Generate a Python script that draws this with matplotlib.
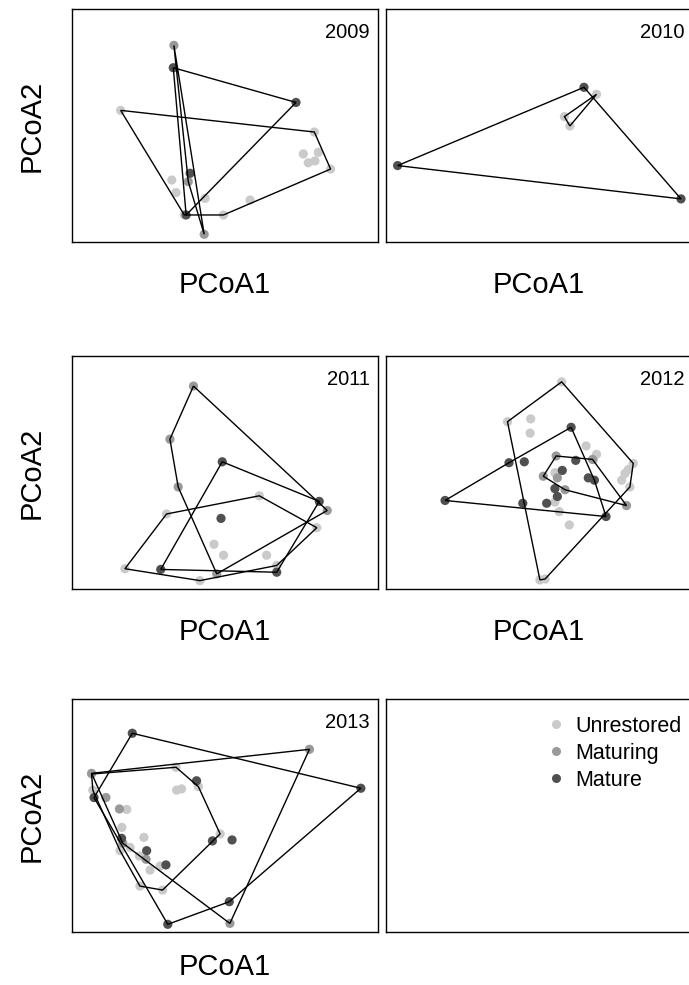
import numpy as np
import matplotlib
matplotlib.use("Agg")
import matplotlib.pyplot as plt
from matplotlib.lines import Line2D

plt.rcParams['font.family'] = ['Liberation Sans', 'DejaVu Sans']

# PCoA scores (arbitrary units, each panel 0-100)
groups = ['Unrestored', 'Maturing', 'Mature']
colors = {'Unrestored': '#cacaca', 'Maturing': '#999999', 'Mature': '#505050'}

pts_2009 = {
    'Unrestored': ([15.9, 79.2, 84.5, 75.6, 80.5, 77.2, 79.4, 32.6, 34.0, 43.5, 58.2, 49.5, 36.7],
                   [56.5, 47.2, 31.3, 37.8, 38.5, 34.0, 34.8, 26.6, 21.2, 18.7, 18.0, 11.6, 11.6]),
    'Maturing': ([33.3, 43.2, 38.0], [84.4, 3.3, 25.9]),
    'Mature': ([33.1, 73.2, 37.3, 38.6], [74.8, 59.9, 11.6, 29.5]),
}
pts_2010 = {
    'Unrestored': ([68.8, 58.3, 60.1], [63.4, 53.8, 49.8]),
    'Maturing': ([], []),
    'Mature': ([64.7, 3.8, 96.4], [66.4, 32.8, 18.5]),
}
pts_2011 = {
    'Unrestored': ([61.2, 30.9, 80.0, 46.4, 49.5, 63.6, 17.3, 41.8, 66.9],
                   [40.0, 32.2, 26.3, 19.2, 14.5, 14.5, 8.7, 3.6, 10.1]),
    'Maturing': ([39.7, 32.0, 34.7, 83.4, 47.3], [87.1, 64.3, 43.8, 33.7, 6.5]),
    'Mature': ([49.1, 80.8, 48.7, 29.0, 66.9], [54.6, 37.6, 30.3, 8.4, 7.2]),
}
pts_2012 = {
    'Unrestored': ([57.4, 39.7, 47.3, 47.1, 65.4, 68.8, 67.8, 80.8, 79.2, 78.1, 77.0, 79.7,
                    55.2, 55.2, 56.6, 59.9, 50.3, 52.0],
                   [88.9, 71.8, 73.0, 66.9, 61.4, 57.8, 55.6, 53.9, 51.3, 49.6, 46.7, 43.8,
                    49.9, 37.3, 33.2, 27.5, 3.9, 4.3]),
    'Maturing': ([51.4, 55.6, 67.5, 78.6, 58.5, 56.0], [48.4, 57.1, 55.6, 35.8, 42.6, 47.7]),
    'Mature': ([19.3, 60.5, 71.9, 40.2, 45.2, 62.0, 57.6, 66.1, 68.1, 55.2, 56.0, 52.5, 44.7],
               [38.0, 69.4, 31.1, 54.2, 54.6, 55.2, 50.9, 47.7, 46.7, 43.1, 39.7, 36.8, 36.8]),
}
pts_2013 = {
    'Unrestored': ([6.4, 34.0, 41.3, 34.2, 35.8, 6.8, 17.9, 16.3, 48.4, 23.5, 19.0, 15.7,
                    22.0, 28.8, 25.5, 22.2, 29.6],
                   [67.8, 70.7, 62.4, 60.9, 61.4, 60.9, 52.6, 44.9, 42.1, 40.6, 36.3, 34.9,
                    32.6, 28.3, 26.6, 19.7, 18.0]),
    'Maturing': ([6.4, 77.6, 51.6, 11.1, 15.5, 16.6, 24.2], [68.1, 78.4, 3.7, 57.7, 52.8, 38.1, 31.2]),
    'Mature': ([19.7, 94.4, 51.4, 31.3, 7.2, 40.7, 45.9, 52.3, 16.2, 24.4, 30.7],
               [85.3, 61.7, 13.0, 3.3, 57.7, 64.9, 39.1, 39.5, 40.2, 34.9, 28.8]),
}
years = ['2009', '2010', '2011', '2012', '2013']
panels = [pts_2009, pts_2010, pts_2011, pts_2012, pts_2013]


def convex_hull(x, y):
    p = sorted(set(zip(x, y)))
    if len(p) < 3:
        return p

    def cross(o, a, b):
        return (a[0] - o[0]) * (b[1] - o[1]) - (a[1] - o[1]) * (b[0] - o[0])

    lower = []
    for q in p:
        while len(lower) >= 2 and cross(lower[-2], lower[-1], q) <= 0:
            lower.pop()
        lower.append(q)
    upper = []
    for q in reversed(p):
        while len(upper) >= 2 and cross(upper[-2], upper[-1], q) <= 0:
            upper.pop()
        upper.append(q)
    return lower[:-1] + upper[:-1]


W, H = 689, 985
fig = plt.figure(figsize=(W / 100, H / 100), dpi=100)

# panel boxes in pixels: left, top, width, height
lefts = [72, 386]
tops = [9, 356, 699]
pw, ph = 306, 233
xpad = [21, 21, 15]

axes = []
for r in range(3):
    for c in range(2):
        ax = fig.add_axes([lefts[c] / W, (H - tops[r] - ph) / H, pw / W, ph / H])
        ax.set_xlim(0, 100)
        ax.set_ylim(0, 100)
        ax.set_xticks([])
        ax.set_yticks([])
        for s in ax.spines.values():
            s.set_linewidth(1.0)
        axes.append(ax)

for i, (yr, pts) in enumerate(zip(years, panels)):
    ax = axes[i]
    for g in groups:
        x, y = pts[g]
        if len(x):
            ax.scatter(x, y, s=44, color=colors[g], edgecolors='none', zorder=2)
    for g in groups:
        x, y = pts[g]
        if len(x) >= 3:
            h = np.array(convex_hull(x, y))
            ax.fill(h[:, 0], h[:, 1], fill=False, edgecolor='black', lw=1.0, zorder=3)
    ax.text(0.974, 0.897, yr, transform=ax.transAxes, ha='right', va='center', fontsize=14.5)
    ax.set_xlabel('PCoA1', fontsize=21, labelpad=xpad[i // 2])
    if i % 2 == 0:
        ax.set_ylabel('PCoA2', fontsize=21, labelpad=19)

handles = [Line2D([], [], marker='o', ls='none', color=colors[g], markersize=6.5, markeredgewidth=0)
           for g in groups]
axes[5].legend(handles, groups, loc='upper left', bbox_to_anchor=(0.528, 0.929), frameon=False,
               fontsize=15.5, handlelength=0.8, handletextpad=0.5, borderpad=0, borderaxespad=0,
               labelspacing=0.28)

fig.savefig('out.png', dpi=100)
